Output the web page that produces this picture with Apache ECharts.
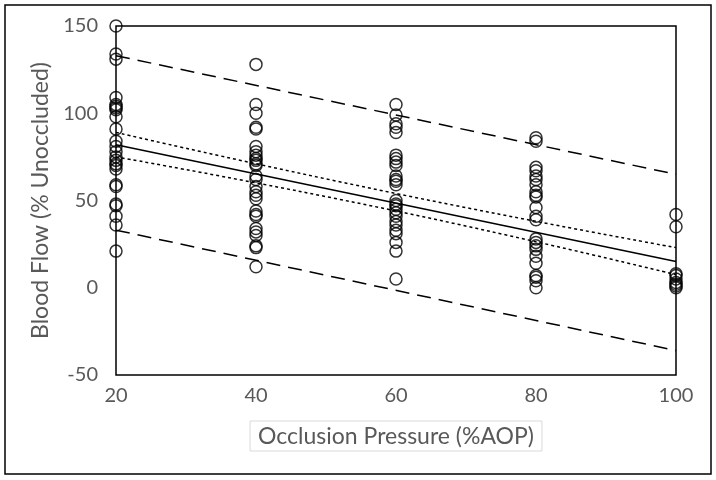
<!DOCTYPE html>
<html><head><meta charset="utf-8">
<script src="https://cdn.jsdelivr.net/npm/echarts@6/dist/echarts.min.js"></script>
<style>html,body{margin:0;padding:0;background:#fff}#c{width:716px;height:480px}</style>
</head><body><div id="c"></div>
<script>
const xTicks = [20, 40, 60, 80, 100];
const flow20 = [150, 134, 131, 109, 105, 104, 103, 102, 98, 91, 84, 81, 78, 75, 73, 71, 70, 68, 59, 58, 48, 47, 41, 36, 21];
const flow40 = [128, 105, 100, 92, 91, 81, 78, 76, 74, 73, 71, 70, 64, 62, 58, 55, 53, 51, 44, 42, 41, 34, 32, 30, 24, 23, 12];
const flow60 = [105, 99, 94, 92, 89, 76, 74, 72, 70, 64, 62, 61, 59, 50, 48, 47, 45, 43, 41, 38, 36, 33, 31, 26, 21, 5];
const flow80 = [86, 84, 69, 67, 64, 62, 59, 55, 53, 52, 46, 41, 39, 28, 26, 24, 22, 18, 14, 7, 6, 4, 0];
const flow100 = [42, 35, 8, 7, 5, 3, 2, 1, 0];
const fitX = [20, 100];
const fitY = [82, 15];
const ciX = [20, 60, 100];
const ciUpper = [89, 54, 23];
const ciLower = [75, 44, 7.5];
const piX = [20, 100];
const piUpper = [133, 65];
const piLower = [33, -36];

const groups = [flow20, flow40, flow60, flow80, flow100];
const pts = [];
groups.forEach((g, i) => g.forEach(v => pts.push([xTicks[i], v])));
const pair = (xs, ys) => xs.map((x, i) => [x, ys[i]]);

const gray = '#595959';
const font = 'Lato, "Open Sans", sans-serif';
const chart = echarts.init(document.getElementById('c'));
chart.setOption({
  animation: false,
  backgroundColor: '#fff',
  grid: { left: 116, right: 40, top: 26, bottom: 105, show: true, borderColor: '#000', borderWidth: 1.5, backgroundColor: 'transparent' },
  xAxis: {
    type: 'value', min: 20, max: 100, interval: 20,
    axisLine: { show: false }, axisTick: { show: false }, splitLine: { show: false },
    axisLabel: { color: gray, fontSize: 20, fontFamily: font, margin: 11 },
    name: 'Occlusion Pressure (%AOP)', nameLocation: 'middle', nameGap: 46,
    nameTextStyle: { color: gray, fontSize: 23, fontFamily: font, borderColor: '#d9d9d9', borderWidth: 1, padding: [4, 8, 3, 8] }
  },
  yAxis: {
    type: 'value', min: -50, max: 150, interval: 50,
    axisLine: { show: false }, axisTick: { show: false }, splitLine: { show: false },
    axisLabel: { color: gray, fontSize: 20, fontFamily: font, margin: 18 },
    name: 'Blood Flow (% Unoccluded)', nameLocation: 'middle', nameGap: 57,
    nameTextStyle: { color: gray, fontSize: 23, fontFamily: font }
  },
  graphic: [{ type: 'rect', shape: { x: 5, y: 5, width: 706, height: 469 }, style: { fill: 'none', stroke: '#000', lineWidth: 1.5 }, silent: true }],
  series: [
    { type: 'line', data: pair(piX, piUpper), symbol: 'none', lineStyle: { color: '#000', width: 1.5, type: [14, 8] } },
    { type: 'line', data: pair(piX, piLower), symbol: 'none', lineStyle: { color: '#000', width: 1.5, type: [14, 8] } },
    { type: 'line', data: pair(ciX, ciUpper), symbol: 'none', smooth: true, lineStyle: { color: '#000', width: 1.5, type: [3, 3] } },
    { type: 'line', data: pair(ciX, ciLower), symbol: 'none', smooth: true, lineStyle: { color: '#000', width: 1.5, type: [3, 3] } },
    { type: 'line', data: pair(fitX, fitY), symbol: 'none', lineStyle: { color: '#000', width: 1.5 } },
    { type: 'scatter', data: pts, symbol: 'circle', symbolSize: 12, itemStyle: { color: 'rgba(0,0,0,0)', borderColor: '#000', borderWidth: 1.5 }, z: 5 }
  ]
});
</script></body></html>
